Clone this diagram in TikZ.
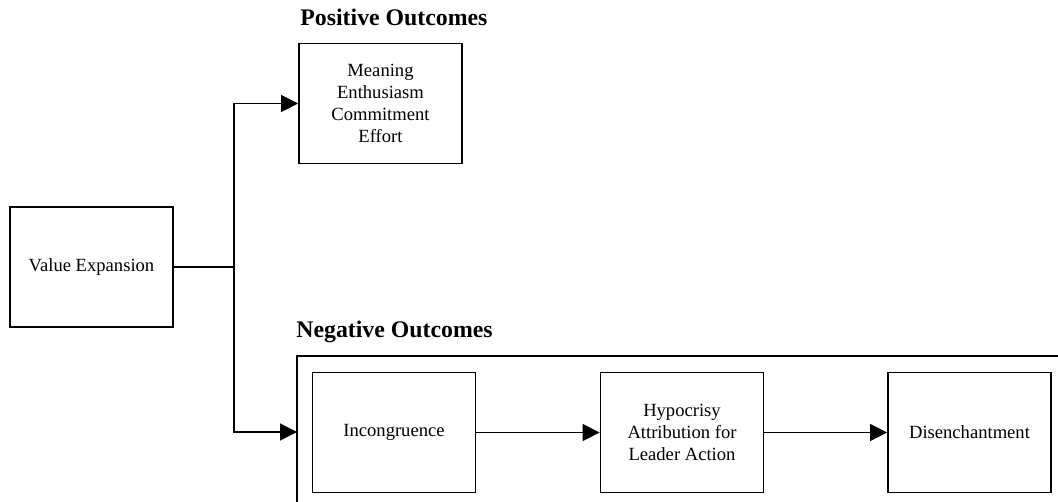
\documentclass[tikz,border=0pt]{standalone}
\usepackage{fontspec}
\setmainfont{Liberation Serif}
\usetikzlibrary{arrows.meta}
\tikzset{
  stagebox/.style={draw, line width=0.9pt, black, minimum width=81.5pt, minimum height=60pt, align=center, inner sep=0pt, font=\fontsize{9.3}{11}\selectfont},
  flowarrow/.style={line width=0.7pt, black, -{Triangle[length=8.5pt,width=8.5pt]}},
  flowline/.style={line width=0.7pt, black},
  grouptitle/.style={anchor=base west, inner sep=0pt, font=\fontsize{11.9}{14}\selectfont\bfseries}
}
\begin{document}
\begin{tikzpicture}[x=0.5pt,y=-0.5pt]
\useasboundingbox (0,0) rectangle (1058,502);
\node[stagebox] (value) at (91.5,267) {Value Expansion};
\node[stagebox] (positive) at (380.5,103.5) {Meaning\\Enthusiasm\\Commitment\\Effort};
\node[grouptitle] (postitle) at (300,26) {Positive Outcomes};
\node[grouptitle] (negtitle) at (296,337) {Negative Outcomes};
\draw[line width=0.9pt, black] (1060,356) -- (297,356) -- (297,504);
\coordinate (negin) at (297,432);
\node[stagebox] (incongruence) at (394,432.5) {Incongruence};
\node[stagebox] (hypocrisy) at (682,432.5) {Hypocrisy\\Attribution for\\Leader Action};
\node[stagebox] (disenchant) at (969.5,432.5) {Disenchantment};
\coordinate (split) at (234,267);
\draw[flowline] (value.east) -- (split);
\draw[flowarrow] (split) |- (positive.west);
\draw[flowarrow] (split) |- (negin);
\draw[flowarrow] (incongruence.east) -- (hypocrisy.west);
\draw[flowarrow] (hypocrisy.east) -- (disenchant.west);
\end{tikzpicture}
\end{document}
